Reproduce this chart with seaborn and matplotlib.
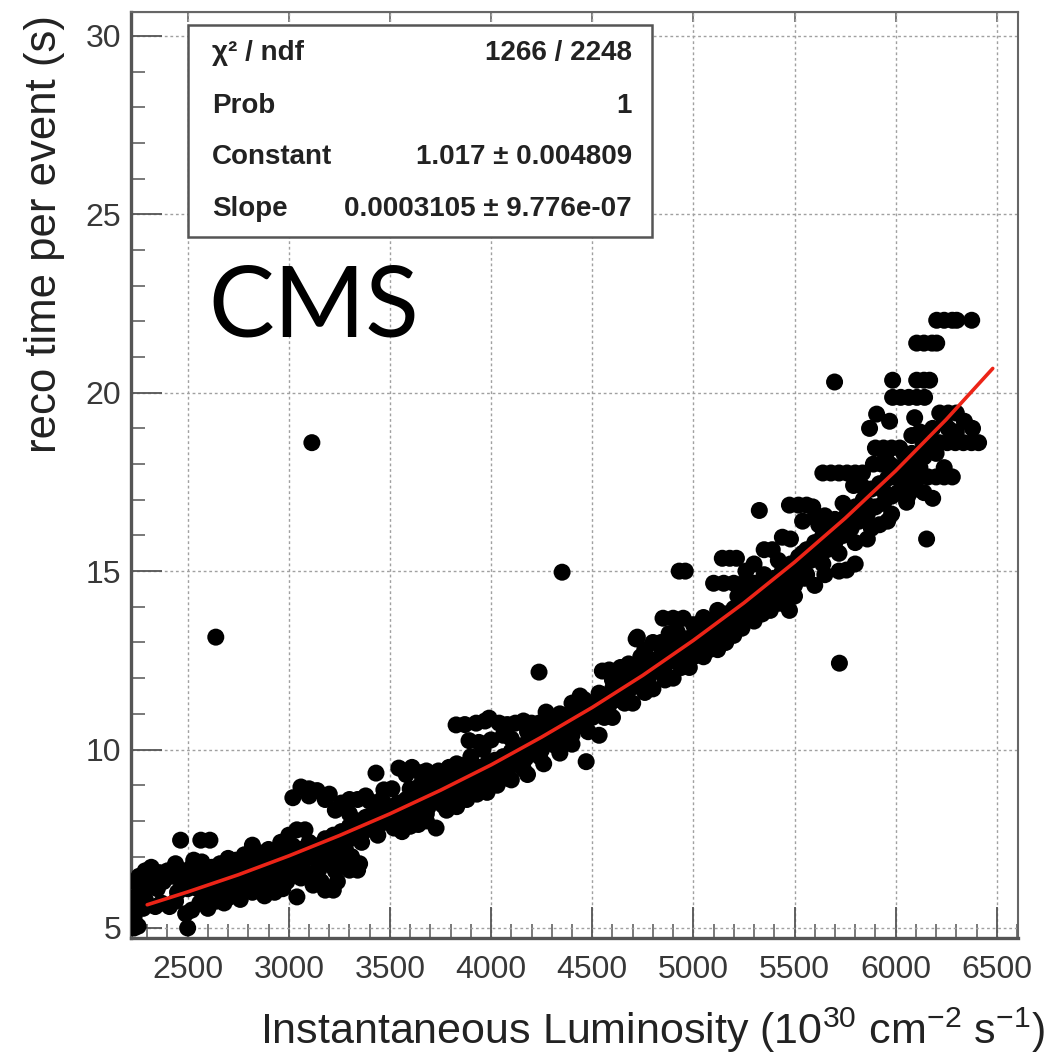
import numpy as np
import pandas as pd
import seaborn as sns
import matplotlib.pyplot as plt
from matplotlib.ticker import MultipleLocator
from matplotlib.patches import Rectangle

# reco time per event (s) vs instantaneous luminosity
seg_2200 = [(2235, 5.0), (2255, 5.05), (2500, 5.0), (2235, 5.3), (2240, 5.6), (2250, 5.9),
            (2280, 5.55), (2290, 5.8), (2235, 6.3), (2260, 6.45), (2290, 6.6), (2320, 6.7),
            (2330, 6.4), (2360, 6.55), (2380, 6.3), (2400, 6.6), (2420, 6.45), (2340, 5.6),
            (2370, 5.7), (2410, 5.6), (2440, 5.75), (2450, 6.0), (2470, 6.2), (2440, 6.8),
            (2480, 6.6), (2500, 6.4), (2500, 6.1), (2490, 5.4), (2520, 5.5), (2465, 7.46),
            (2300, 6.2), (2350, 6.1)]

seg_2500 = [(2530, 6.9), (2570, 6.85), (2620, 6.7), (2660, 6.8), (2700, 6.95), (2740, 6.9),
            (2780, 7.05), (2820, 7.0), (2860, 7.1), (2900, 7.2), (2940, 7.15), (2980, 7.25),
            (2565, 7.46), (2610, 7.46), (2820, 7.32), (2960, 7.4),
            (2540, 6.5), (2580, 6.3), (2620, 6.45), (2660, 6.3), (2700, 6.5), (2740, 6.6),
            (2780, 6.4), (2820, 6.7), (2860, 6.55), (2900, 6.8), (2940, 6.6), (2980, 6.9),
            (2550, 6.1), (2590, 5.95), (2630, 5.85), (2670, 6.05), (2710, 6.2), (2750, 6.0),
            (2790, 6.15), (2830, 6.3), (2870, 6.2), (2910, 6.4), (2950, 6.3), (2990, 6.5),
            (2560, 5.7), (2600, 5.55), (2640, 5.75), (2700, 5.85), (2760, 5.8), (2880, 5.9),
            (2930, 6.0),
            (2520, 6.7), (2600, 6.6), (2680, 6.6), (2760, 6.75), (2840, 6.85), (2920, 7.0),
            (2560, 6.3), (2640, 6.15), (2720, 6.35), (2800, 6.55), (2880, 6.65), (2960, 6.75),
            (2580, 5.8), (2680, 5.7), (2820, 6.0), (2970, 6.1), (2900, 6.1)]

seg_3000 = [(3020, 8.65), (3060, 8.95), (3100, 8.7), (3140, 8.85), (3180, 8.6), (3230, 8.3),
            (3260, 8.5), (3300, 8.2), (3340, 8.6), (3380, 8.7), (3431, 9.34), (3470, 8.87),
            (3510, 8.9),
            (3000, 7.6), (3040, 7.75), (3080, 7.75), (3020, 7.3), (3060, 7.2), (3100, 7.4),
            (3140, 7.3), (3180, 7.5), (3220, 7.6), (3260, 7.7), (3300, 7.85), (3340, 8.0),
            (3380, 8.1), (3420, 8.2), (3460, 8.3), (3500, 8.4),
            (3010, 6.9), (3050, 6.8), (3090, 6.95), (3130, 7.0), (3170, 7.1), (3210, 7.2),
            (3250, 7.3), (3290, 7.45), (3330, 7.6), (3370, 7.7), (3410, 7.8), (3450, 7.9),
            (3490, 8.0),
            (2990, 6.3), (3030, 6.5), (3070, 6.6), (3110, 6.5), (3150, 6.65), (3190, 6.8),
            (3230, 6.6), (3270, 6.9), (3310, 7.0), (3350, 6.8), (3120, 6.2), (3160, 6.3),
            (3200, 6.1), (3240, 6.3), (3040, 5.87), (3180, 6.06), (3220, 6.06), (3300, 6.62),
            (3340, 6.62),
            (3000, 7.0), (3080, 7.1), (3160, 7.2), (3240, 7.45), (3320, 7.7), (3400, 7.95),
            (3480, 8.2), (3060, 6.4), (3140, 6.9), (3220, 7.0), (3280, 7.2), (3360, 7.4),
            (3440, 7.6), (3520, 7.8), (3100, 8.9), (3200, 8.75), (3300, 8.6), (3400, 8.55),
            (3460, 8.6)]

seg_3500 = [(3544, 9.48), (3609, 9.5), (3650, 9.35), (3693, 9.29), (3740, 9.4), (3792, 9.5),
            (3830, 9.6), (3827, 10.69), (3870, 10.7), (3926, 10.74), (3970, 10.8), (3990, 10.88),
            (3891, 10.25), (3940, 10.2),
            (3540, 8.5), (3580, 8.6), (3620, 8.7), (3660, 8.8), (3700, 8.9), (3740, 9.0),
            (3780, 9.1), (3820, 9.2), (3860, 9.3), (3900, 9.4), (3940, 9.5), (3980, 9.6),
            (3530, 8.0), (3570, 8.1), (3610, 8.2), (3650, 8.3), (3690, 8.4), (3730, 8.55),
            (3770, 8.7), (3810, 8.8), (3850, 8.9), (3890, 9.0), (3930, 9.1), (3970, 9.2),
            (3560, 7.7), (3600, 7.85), (3640, 7.9), (3680, 8.0), (3728, 7.8), (3780, 8.3),
            (3830, 8.4), (3880, 8.6), (3930, 8.75), (3980, 8.8),
            (3600, 8.9), (3650, 9.0), (3700, 9.1), (3760, 9.25),
            (3560, 8.3), (3640, 8.5), (3720, 8.7), (3800, 8.95), (3880, 9.15), (3960, 9.35),
            (3600, 8.0), (3680, 8.2), (3760, 8.45), (3840, 8.6), (3920, 8.9), (3580, 9.3),
            (3680, 9.4), (3860, 9.55), (3900, 9.8), (3960, 10.0)]

seg_4000 = [(4040, 10.74), (4080, 10.7), (4120, 10.74), (4160, 10.8), (4200, 10.74),
            (4237, 10.74), (4272, 11.05), (4060, 10.4), (4100, 10.3), (4000, 10.27),
            (4020, 9.7), (4060, 9.8), (4100, 9.95), (4140, 10.1), (4180, 10.2), (4220, 10.35),
            (4260, 10.5), (4300, 10.6), (4340, 10.75), (4380, 10.9), (4420, 11.0), (4460, 11.1),
            (4500, 11.2),
            (4010, 9.3), (4050, 9.4), (4090, 9.5), (4130, 9.6), (4170, 9.75), (4210, 9.9),
            (4250, 10.0), (4290, 10.2), (4330, 10.3), (4370, 10.45), (4410, 10.6), (4450, 10.7),
            (4030, 9.0), (4100, 9.15), (4180, 9.3), (4260, 9.6), (4340, 9.9), (4400, 10.15),
            (4470, 9.66), (4340, 11.0), (4400, 11.3), (4440, 11.5),
            (4040, 9.55), (4120, 9.75), (4200, 10.05), (4280, 10.3), (4360, 10.55), (4440, 10.85),
            (4080, 9.2), (4160, 9.45), (4240, 9.8), (4320, 10.1), (4400, 10.4), (4480, 10.5),
            (4180, 10.5), (4300, 10.9), (4460, 11.4)]

seg_4500 = [(4520, 11.3), (4560, 11.5), (4600, 11.7), (4640, 11.85), (4680, 12.0), (4720, 12.2),
            (4760, 12.35), (4800, 12.5), (4840, 12.65), (4880, 12.8), (4920, 12.95), (4960, 13.1),
            (5000, 13.2),
            (4500, 10.9), (4540, 11.1), (4580, 11.2), (4620, 11.4), (4660, 11.6), (4700, 11.75),
            (4740, 11.9), (4780, 12.05), (4820, 12.2), (4860, 12.35), (4900, 12.5), (4940, 12.65),
            (4980, 12.8),
            (4534, 10.4), (4534, 11.58), (4600, 10.9), (4700, 11.3), (4800, 11.7), (4900, 12.0),
            (4980, 12.3),
            (4550, 12.2), (4584, 12.23), (4620, 12.2), (4717, 13.1), (4600, 11.95), (4680, 12.4),
            (4760, 12.8), (4850, 13.68), (4900, 13.68), (4950, 13.68), (4800, 13.0), (4880, 13.25),
            (4930, 15.0), (4960, 15.0),
            (4540, 11.35), (4620, 11.6), (4700, 11.95), (4780, 12.25), (4860, 12.55), (4940, 12.85),
            (4560, 10.9), (4660, 11.3), (4760, 11.6), (4860, 11.95), (4940, 12.3), (5000, 12.6),
            (4640, 12.3), (4740, 12.6), (4840, 13.0), (4920, 13.3)]

seg_5000 = [(5040, 13.3), (5080, 13.45), (5120, 13.6), (5160, 13.8), (5200, 13.95), (5240, 14.1),
            (5280, 14.3), (5320, 14.45), (5360, 14.6), (5400, 14.8), (5440, 15.0), (5480, 15.2),
            (5020, 12.9), (5060, 13.0), (5100, 13.1), (5140, 13.3), (5180, 13.5), (5220, 13.65),
            (5260, 13.8), (5300, 13.95), (5340, 14.1), (5380, 14.3), (5420, 14.45), (5460, 14.6),
            (5500, 14.7),
            (5050, 12.6), (5120, 12.8), (5200, 13.2), (5300, 13.6), (5380, 13.9), (5475, 13.9),
            (5440, 14.1),
            (5100, 14.66), (5150, 14.66), (5200, 14.66), (5250, 14.66), (5300, 14.66),
            (5143, 15.36), (5180, 15.36), (5213, 15.36), (5260, 15.0), (5300, 15.2),
            (5350, 15.6), (5390, 15.6), (5440, 15.95), (5480, 15.9), (5326, 16.7),
            (5050, 13.7), (5000, 13.5),
            (5060, 13.2), (5140, 13.5), (5220, 13.85), (5300, 14.15), (5380, 14.5), (5460, 14.85),
            (5080, 12.8), (5160, 13.0), (5240, 13.4), (5340, 13.8), (5420, 14.1), (5500, 14.3),
            (5120, 13.9), (5220, 14.3), (5350, 14.9), (5420, 15.3)]

seg_5500 = [(5520, 15.4), (5560, 15.6), (5600, 15.8), (5640, 16.0), (5680, 16.2), (5720, 16.4),
            (5760, 16.6), (5800, 16.8), (5840, 17.0), (5880, 17.3), (5920, 17.45), (5960, 17.6),
            (5500, 15.0), (5540, 15.1), (5580, 15.3), (5620, 15.5), (5660, 15.6), (5700, 15.8),
            (5740, 16.0), (5780, 16.2), (5820, 16.4), (5860, 16.6), (5900, 16.8), (5940, 16.9),
            (5980, 17.1),
            (5450, 14.4), (5500, 14.6), (5550, 14.8), (5600, 14.6), (5650, 14.9), (5720, 15.0),
            (5757, 15.03), (5800, 15.2), (5860, 15.9), (5920, 16.3), (5980, 16.6),
            (5475, 16.85), (5520, 16.85), (5560, 16.85), (5590, 16.8), (5540, 16.4), (5600, 16.5),
            (5650, 16.55), (5700, 16.45),
            (5640, 17.75), (5680, 17.75), (5720, 17.75), (5760, 17.75), (5800, 17.75),
            (5836, 17.75), (5792, 17.4), (5890, 18.0), (5930, 18.0), (5970, 18.0),
            (5900, 18.45), (5940, 18.45), (5980, 18.45), (6020, 18.45), (5871, 19.0),
            (5906, 19.4), (5970, 19.2), (6000, 17.9),
            (5540, 15.5), (5620, 15.75), (5700, 16.1), (5780, 16.5), (5860, 16.85), (5940, 17.25),
            (5560, 14.9), (5640, 15.2), (5720, 15.5), (5800, 15.8), (5880, 16.2), (5960, 16.4),
            (5620, 16.3), (5740, 16.9), (5840, 17.35), (5950, 18.2)]

seg_6000 = [(6000, 17.64), (6040, 17.64), (6080, 17.64), (6120, 17.64), (6160, 17.64),
            (6200, 17.64), (6240, 17.64), (6280, 17.64), (6054, 16.93), (6183, 17.04),
            (6010, 17.2), (6050, 17.4), (6100, 17.3),
            (6135, 18.6), (6175, 18.6), (6215, 18.6), (6255, 18.6), (6295, 18.6), (6335, 18.6),
            (6375, 18.6), (6410, 18.6),
            (6183, 19.0), (6094, 19.3), (6218, 19.43), (6260, 19.43), (6300, 19.43), (6240, 19.2),
            (6080, 18.8), (6120, 18.9), (6040, 18.3), (6100, 18.1), (6060, 18.0),
            (5985, 19.87), (6025, 19.87), (6065, 19.87), (6105, 19.87), (6143, 19.87),
            (5985, 20.35), (6104, 20.35), (6140, 20.35), (6168, 20.35),
            (6104, 21.39), (6140, 21.39), (6180, 21.39), (6203, 21.39),
            (6203, 22.03), (6240, 22.03), (6280, 22.03), (6302, 22.03), (6376, 22.03),
            (6020, 17.9), (6080, 18.3), (6140, 18.2), (6200, 18.3), (6260, 19.0), (6300, 18.9),
            (6340, 19.2), (6380, 19.0), (6120, 17.9), (6240, 17.9), (6060, 17.1), (6140, 17.2)]

outliers = [(2639, 13.15), (3114, 18.6), (4351, 14.97), (5722, 12.42), (5698, 20.3),
            (6153, 15.9), (4237, 12.17), (4723, 13.15)]

# red fit curve
fit_lum = [2300, 2500, 2750, 3000, 3250, 3500, 3750, 4000, 4250, 4500, 4750,
           5000, 5250, 5500, 5750, 6000, 6250, 6480]
fit_time = [5.65, 6.01, 6.49, 7.02, 7.59, 8.20, 8.86, 9.57, 10.35, 11.18, 12.08,
            13.06, 14.11, 15.25, 16.48, 17.81, 19.25, 20.68]

stat_names = ["\u03c7\u00b2 / ndf", "Prob", "Constant", "Slope"]
stat_values = ["1266 / 2248", "1", "1.017 \u00b1 0.004809", "0.0003105 \u00b1 9.776e-07"]

pts = seg_2200 + seg_2500 + seg_3000 + seg_3500 + seg_4000 + seg_4500 + seg_5000 + seg_5500 + seg_6000 + outliers
df = pd.DataFrame(pts, columns=["lum", "reco"])

sns.set_style("white")
plt.rcParams['font.family'] = ['Liberation Sans', 'DejaVu Sans']
plt.rcParams['mathtext.fontset'] = 'custom'
plt.rcParams['mathtext.rm'] = 'Liberation Sans'

fig = plt.figure(figsize=(10.61, 10.59), dpi=100)
ax = fig.add_axes([0.1235, 0.1143, 0.836, 0.8744])

sns.scatterplot(data=df, x="lum", y="reco", ax=ax, color="black", s=150,
                edgecolor="none", linewidth=0, zorder=3)
sns.lineplot(x=fit_lum, y=fit_time, ax=ax, color="#ec2417", lw=2.6, zorder=4)

ax.set_xlim(2220, 6605)
ax.set_ylim(4.72, 30.67)
ax.xaxis.set_major_locator(MultipleLocator(500))
ax.xaxis.set_minor_locator(MultipleLocator(100))
ax.yaxis.set_major_locator(MultipleLocator(5))
ax.yaxis.set_minor_locator(MultipleLocator(1))
ax.grid(True, which="major", ls=(0, (2, 2)), color="#a0a0a0", lw=1.0)
ax.set_axisbelow(True)

ax.tick_params(which="both", bottom=True, left=True, top=False, right=False)
ax.tick_params(which="major", direction="in", length=22, width=1.3, color="#555555",
               labelsize=23, labelcolor="#383838")
ax.tick_params(which="minor", direction="in", length=10, width=1.1, color="#555555")
ax.tick_params(axis="x", pad=12)
ax.tick_params(axis="y", pad=7)
ax.set_xlabel("")
ax.set_ylabel("")
for side in ["left", "bottom"]:
    ax.spines[side].set_color("#555555")
    ax.spines[side].set_linewidth(2.4)
for side in ["top", "right"]:
    ax.spines[side].set_color("#666666")
    ax.spines[side].set_linewidth(1.5)

top = ax.secondary_xaxis("top")
top.xaxis.set_major_locator(MultipleLocator(500))
top.tick_params(direction="in", length=7, width=1.1, color="#555555", labeltop=False)

# stats box
fig.add_artist(Rectangle((0.1772, 0.7762), 0.4373, 0.2002, transform=fig.transFigure,
                         facecolor="white", edgecolor="#555555", lw=1.8, zorder=5))
row_y = [0.9500, 0.9000, 0.8517, 0.8025]
for name, val, yy in zip(stat_names, stat_values, row_y):
    fig.text(0.1998, yy, name, fontsize=20, fontweight="bold", color="#222222",
             ha="left", va="center", zorder=6)
    fig.text(0.5957, yy, val, fontsize=20, fontweight="bold", color="#222222",
             ha="right", va="center", zorder=6)

fig.text(0.196, 0.6818, "CMS", fontsize=71, family="Lato", color="black",
         ha="left", va="baseline")

fig.text(0.985, 0.027, r"Instantaneous Luminosity (10$^{30}$ cm$^{-2}$ s$^{-1}$)",
         fontsize=31, color="#222222", ha="right", va="center")
fig.text(0.042, 0.986, "reco time per event (s)", fontsize=31.5, color="#222222",
         rotation=90, ha="center", va="top")

plt.savefig("out.png", dpi=100)
